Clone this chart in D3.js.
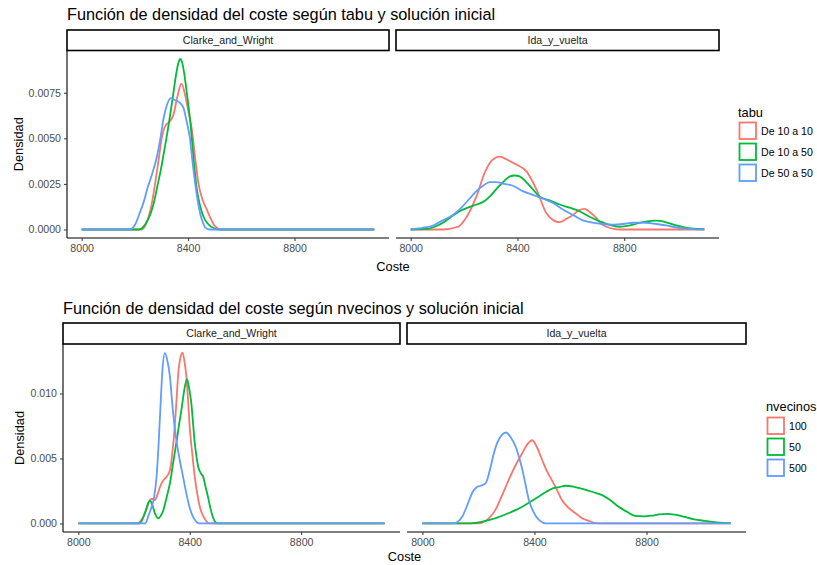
<!DOCTYPE html>
<html><head><meta charset="utf-8">
<script src="https://cdn.jsdelivr.net/npm/d3@7"></script>
<style>body{margin:0;background:#fff} text{font-family:"Liberation Sans",Arial,sans-serif}</style>
</head><body><svg id="c" width="817" height="565"></svg>
<script>
// ---------- DATA ----------
const facets = ["Clarke_and_Wright", "Ida_y_vuelta"];
const tabuLevels = ["De 10 a 10", "De 10 a 50", "De 50 a 50"];
const nvecinosLevels = ["100", "50", "500"];
const colors = ["#F8766D", "#00BA38", "#619CFF"];
const xRange = [8000, 9100];
const xTicks = [8000, 8400, 8800];
const topYTicks = [0, 0.0025, 0.005, 0.0075];
const bottomYTicks = [0, 0.005, 0.010];

// [coste, densidad]
const tabuCW1010 = [[8000,0],[8225,0],[8245,0.0004],[8262,0.0013],[8277,0.0026],[8290,0.0039],[8302,0.0051],[8315,0.0057],[8330,0.0059],[8345,0.0063],[8360,0.0073],[8375,0.0080],[8390,0.0073],[8402,0.0064],[8414,0.0055],[8426,0.0040],[8438,0.0026],[8455,0.0016],[8470,0.0011],[8485,0.0006],[8500,0.0002],[8525,0],[9100,0]];
const tabuCW1050 = [[8000,0],[8215,0],[8240,0.0003],[8260,0.0009],[8272,0.0015],[8285,0.0024],[8298,0.0033],[8310,0.0043],[8322,0.0053],[8335,0.0065],[8345,0.0075],[8355,0.0085],[8363,0.0091],[8370,0.00935],[8377,0.0092],[8385,0.0086],[8396,0.0074],[8407,0.0061],[8420,0.0040],[8432,0.0023],[8445,0.0013],[8458,0.0007],[8475,0.0003],[8500,0.00005],[8520,0],[9100,0]];
const tabuCW5050 = [[8000,0],[8180,0],[8202,0.0003],[8218,0.0009],[8233,0.0015],[8248,0.0023],[8264,0.0030],[8283,0.0040],[8296,0.0050],[8308,0.0061],[8320,0.0068],[8335,0.0072],[8350,0.0071],[8365,0.0070],[8382,0.0067],[8395,0.0059],[8407,0.0050],[8416,0.0038],[8426,0.0026],[8436,0.0016],[8445,0.0009],[8455,0.0004],[8465,0.0001],[8480,0],[9100,0]];
const tabuIV1010 = [[8000,0],[8120,0],[8177,0.00015],[8210,0.0007],[8246,0.0018],[8277,0.0031],[8305,0.0038],[8333,0.0040],[8365,0.0038],[8396,0.00356],[8433,0.0032],[8471,0.0022],[8508,0.0009],[8535,0.0005],[8558,0.0004],[8585,0.0006],[8608,0.0008],[8630,0.00105],[8652,0.00113],[8675,0.0009],[8695,0.00064],[8715,0.0003],[8733,0.00015],[8760,0.00003],[8785,0],[9100,0]];
const tabuIV1050 = [[8000,0],[8059,0.00003],[8090,0.00015],[8121,0.00037],[8152,0.0007],[8183,0.0010],[8215,0.0012],[8246,0.00137],[8270,0.0015],[8296,0.0018],[8320,0.0022],[8346,0.0026],[8370,0.0029],[8390,0.00296],[8410,0.0029],[8433,0.0026],[8458,0.0022],[8483,0.0018],[8520,0.0016],[8558,0.00137],[8595,0.0012],[8633,0.0010],[8670,0.0007],[8708,0.00045],[8745,0.00025],[8783,0.00015],[8810,0.0002],[8833,0.00027],[8870,0.0004],[8900,0.00047],[8920,0.00049],[8945,0.00045],[8970,0.00033],[8995,0.00022],[9030,0.0001],[9060,0.00005],[9100,0.00002]];
const tabuIV5050 = [[8000,0.00002],[8040,0.00008],[8084,0.00022],[8120,0.0005],[8158,0.0008],[8190,0.0012],[8221,0.0017],[8246,0.0021],[8271,0.0024],[8296,0.0026],[8321,0.0026],[8350,0.0025],[8383,0.0024],[8420,0.0021],[8458,0.0019],[8495,0.0017],[8533,0.00146],[8570,0.0011],[8608,0.0008],[8645,0.0005],[8683,0.00037],[8720,0.0003],[8758,0.00027],[8795,0.0003],[8833,0.00037],[8860,0.00038],[8883,0.00037],[8920,0.0003],[8958,0.00022],[9000,0.0001],[9058,0.00002],[9100,0]];

const nvecCW100 = [[8000,0],[8210,0],[8233,0.0005],[8245,0.0011],[8257,0.0018],[8266,0.0019],[8275,0.0018],[8284,0.0022],[8293,0.0028],[8305,0.0033],[8317,0.0036],[8329,0.0041],[8338,0.0055],[8346,0.0074],[8352,0.0093],[8358,0.0113],[8366,0.0127],[8374,0.01315],[8381,0.0125],[8388,0.0113],[8394,0.0095],[8400,0.0074],[8409,0.0054],[8418,0.0036],[8427,0.0023],[8436,0.0013],[8450,0.0005],[8471,0],[9100,0]];
const nvecCW50 = [[8000,0],[8220,0],[8239,0.0008],[8248,0.0014],[8257,0.00175],[8266,0.0014],[8275,0.0008],[8287,0.0004],[8296,0.0006],[8305,0.0010],[8317,0.0020],[8329,0.0031],[8340,0.0046],[8352,0.0062],[8361,0.0075],[8370,0.0087],[8380,0.0102],[8390,0.0111],[8398,0.0104],[8406,0.0092],[8412,0.0077],[8418,0.0062],[8424,0.0052],[8430,0.0044],[8439,0.0039],[8448,0.0036],[8456,0.0029],[8465,0.0021],[8474,0.0012],[8483,0.0005],[8492,0.0001],[8500,0],[9100,0]];
const nvecCW500 = [[8000,0],[8240,0],[8252,0.0006],[8262,0.0012],[8272,0.0020],[8281,0.0036],[8288,0.0060],[8295,0.0090],[8302,0.0118],[8311,0.0131],[8320,0.0125],[8329,0.0113],[8337,0.0093],[8346,0.0074],[8355,0.0060],[8364,0.0049],[8376,0.0036],[8388,0.0023],[8400,0.0012],[8412,0.0005],[8425,0.0001],[8435,0],[9100,0]];
const nvecIV100 = [[8000,0],[8200,0],[8226,0.0002],[8262,0.0011],[8285,0.0022],[8309,0.0034],[8333,0.0045],[8356,0.0054],[8375,0.0061],[8392,0.0064],[8408,0.0059],[8427,0.0049],[8445,0.0040],[8463,0.0033],[8480,0.0026],[8498,0.0018],[8522,0.0012],[8546,0.0008],[8570,0.0004],[8593,0.0002],[8628,0],[9100,0]];
const nvecIV50 = [[8000,0],[8160,0],[8226,0.0002],[8260,0.0004],[8297,0.0007],[8340,0.0011],[8380,0.0016],[8410,0.0020],[8439,0.0024],[8465,0.0027],[8490,0.0028],[8510,0.0029],[8545,0.0028],[8581,0.0026],[8610,0.0024],[8640,0.0022],[8670,0.0018],[8699,0.0013],[8730,0.0009],[8759,0.00058],[8790,0.00055],[8818,0.0006],[8845,0.0007],[8871,0.00074],[8900,0.00068],[8936,0.0005],[8970,0.00032],[9007,0.0002],[9050,0.00008],[9100,0.00002]];
const nvecIV500 = [[8000,0],[8110,0],[8143,0.00056],[8160,0.0014],[8179,0.0024],[8195,0.0028],[8208,0.0029],[8226,0.0031],[8244,0.0044],[8255,0.0054],[8267,0.0062],[8283,0.0068],[8299,0.0070],[8316,0.0066],[8333,0.0059],[8345,0.0051],[8356,0.0042],[8368,0.0030],[8380,0.0018],[8392,0.0011],[8404,0.0006],[8420,0.0002],[8440,0],[9100,0]];

// ---------- DRAW ----------
const svg = d3.select("#c");
svg.append("rect").attr("width", 817).attr("height", 565).attr("fill", "#fff");

function drawBlock(cfg) {
  const g = svg.append("g");
  g.append("text").attr("x", cfg.titleX).attr("y", cfg.titleY)
    .attr("font-size", 16.3).attr("fill", "#000").text(cfg.title);

  const ymax = d3.max(cfg.series.flat().flatMap(s => s.map(d => d[1])));
  const y = d3.scaleLinear().domain([-0.05 * ymax, 1.05 * ymax]).range([cfg.panelBottom, cfg.panelTop]);
  const span = xRange[1] - xRange[0];

  cfg.panels.forEach((px, i) => {
    const x = d3.scaleLinear().domain([xRange[0] - 0.05 * span, xRange[1] + 0.05 * span]).range(px);
    const line = d3.line().x(d => x(d[0])).y(d => y(d[1])).curve(d3.curveMonotoneX);

    cfg.series[i].forEach((s, k) => {
      g.append("path").datum(s).attr("d", line).attr("fill", "none")
        .attr("stroke", colors[k]).attr("stroke-width", 1.8).attr("stroke-linejoin", "round");
    });

    // strip
    g.append("rect").attr("x", px[0]).attr("y", cfg.stripTop)
      .attr("width", px[1] - px[0]).attr("height", cfg.panelTop - cfg.stripTop)
      .attr("fill", "#fff").attr("stroke", "#000").attr("stroke-width", 1.6);
    g.append("text").attr("x", (px[0] + px[1]) / 2).attr("y", (cfg.stripTop + cfg.panelTop) / 2)
      .attr("dy", "0.36em").attr("text-anchor", "middle").attr("font-size", 10.6)
      .attr("fill", "#1A1A1A").text(facets[i]);

    // x axis
    const xa = g.append("g").attr("transform", `translate(0,${cfg.panelBottom})`)
      .call(d3.axisBottom(x).tickValues(xTicks).tickSize(3).tickSizeOuter(0).tickPadding(3).tickFormat(d3.format("d")));
    xa.select(".domain").attr("stroke", "#000").attr("stroke-width", 1.1)
      .attr("d", `M${px[0]},0H${px[1]}`);
    xa.selectAll(".tick line").attr("stroke", "#333").attr("stroke-width", 1);
    xa.selectAll(".tick text").attr("font-size", 10.6).attr("fill", "#4D4D4D").attr("font-family", "Liberation Sans, Arial, sans-serif");

    if (i === 0) {
      const ya = g.append("g").attr("transform", `translate(${px[0]},0)`)
        .call(d3.axisLeft(y).tickValues(cfg.yTicks).tickSize(3).tickSizeOuter(0).tickPadding(3).tickFormat(d3.format(cfg.yFmt)));
      ya.select(".domain").attr("stroke", "#000").attr("stroke-width", 1.1)
        .attr("d", `M0,${cfg.panelTop}V${cfg.panelBottom}`);
      ya.selectAll(".tick line").attr("stroke", "#333").attr("stroke-width", 1);
      ya.selectAll(".tick text").attr("font-size", 10.6).attr("fill", "#4D4D4D").attr("font-family", "Liberation Sans, Arial, sans-serif");
    }
  });

  // axis titles
  const p0 = cfg.panels[0][0], p1 = cfg.panels[cfg.panels.length - 1][1];
  g.append("text").attr("x", (p0 + p1) / 2).attr("y", cfg.xTitleY).attr("text-anchor", "middle")
    .attr("font-size", 12.8).attr("fill", "#000").text("Coste");
  g.append("text").attr("transform", `translate(${cfg.yTitleX},${(cfg.panelTop + cfg.panelBottom) / 2}) rotate(-90)`)
    .attr("text-anchor", "middle").attr("font-size", 12.8).attr("fill", "#000").text("Densidad");

  // legend
  const lg = cfg.legend;
  g.append("text").attr("x", lg.x).attr("y", lg.titleY).attr("font-size", 12.8).attr("fill", "#000").text(lg.title);
  lg.levels.forEach((lab, k) => {
    const ky = lg.keyY + k * 21;
    g.append("rect").attr("x", lg.x + 1.5).attr("y", ky).attr("width", 16.5).attr("height", 16.5)
      .attr("fill", "#fff").attr("stroke", colors[k]).attr("stroke-width", 1.8);
    g.append("text").attr("x", lg.x + lg.labelDx).attr("y", ky + 8.25).attr("dy", "0.36em")
      .attr("font-size", 10.6).attr("fill", "#000").text(lab);
  });
}

drawBlock({
  title: "Función de densidad del coste según tabu y solución inicial",
  titleX: 67, titleY: 20,
  stripTop: 30, panelTop: 50.5, panelBottom: 238,
  panels: [[67, 389], [396, 719]],
  yTicks: topYTicks, yFmt: ".4f",
  series: [[tabuCW1010, tabuCW1050, tabuCW5050], [tabuIV1010, tabuIV1050, tabuIV5050]],
  xTitleY: 271, yTitleX: 23,
  legend: { title: "tabu", levels: tabuLevels, x: 738, titleY: 117, keyY: 122.5, labelDx: 23 }
});

drawBlock({
  title: "Función de densidad del coste según nvecinos y solución inicial",
  titleX: 63, titleY: 314,
  stripTop: 323, panelTop: 344, panelBottom: 532,
  panels: [[63, 400], [407, 746]],
  yTicks: bottomYTicks, yFmt: ".3f",
  series: [[nvecCW100, nvecCW50, nvecCW500], [nvecIV100, nvecIV50, nvecIV500]],
  xTitleY: 561, yTitleX: 24,
  legend: { title: "nvecinos", levels: nvecinosLevels, x: 766, titleY: 411, keyY: 417.5, labelDx: 23 }
});
</script></body></html>
